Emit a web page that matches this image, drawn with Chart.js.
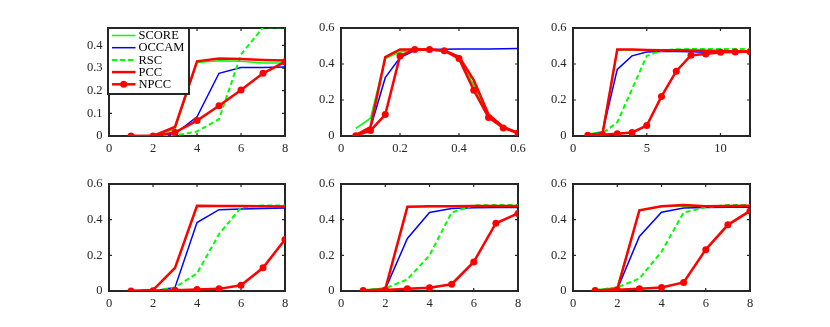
<!DOCTYPE html>
<html>
<head>
<meta charset="utf-8">
<script src="https://cdn.jsdelivr.net/npm/chart.js@4.4.1/dist/chart.umd.min.js"></script>
<style>
body { margin: 0; background: #fff; }
#fig { position: relative; width: 830px; height: 327px; overflow: hidden; background: #fff; }
#fig canvas { position: absolute; }
</style>
</head>
<body>
<div id="fig"></div>
<script>
'use strict';

var seriesNames = ['SCORE', 'OCCAM', 'RSC', 'PCC', 'NPCC']

// panel 1
var p1X = [1, 2, 3, 4, 5, 6, 7, 8]
var p1Score = [0, 0, 0.03, 0.325, 0.332, 0.33, 0.322, 0.322]
var p1Occam = [0, 0, 0.01, 0.085, 0.277, 0.302, 0.303, 0.305]
var p1Rsc = [0, 0, 0.002, 0.02, 0.074, 0.36, 0.48, 0.48]
var p1Pcc = [0, 0, 0.04, 0.33, 0.342, 0.34, 0.336, 0.334]
var p1Npcc = [0, 0, 0.016, 0.068, 0.134, 0.203, 0.277, 0.328]

// panel 2
var p2X = [0.05, 0.1, 0.15, 0.2, 0.25, 0.3, 0.35, 0.4, 0.45, 0.5, 0.55, 0.6]
var p2Score = [0.043, 0.099, 0.43, 0.467, 0.475, 0.48, 0.475, 0.43, 0.28, 0.11, 0.05, 0.018]
var p2Occam = [0.005, 0.045, 0.324, 0.436, 0.475, 0.48, 0.482, 0.483, 0.484, 0.484, 0.485, 0.486]
var p2Rsc = [0.005, 0.05, 0.43, 0.478, 0.48, 0.48, 0.475, 0.44, 0.3, 0.12, 0.05, 0.018]
var p2Pcc = [0.005, 0.05, 0.438, 0.481, 0.481, 0.48, 0.475, 0.44, 0.31, 0.12, 0.05, 0.018]
var p2Npcc = [0.002, 0.03, 0.119, 0.445, 0.481, 0.481, 0.474, 0.43, 0.254, 0.103, 0.045, 0.016]

// panel 3
var p3X = [1, 2, 3, 4, 5, 6, 7, 8, 9, 10, 11, 12]
var p3Score = [0.01, 0.025, 0.478, 0.478, 0.476, 0.475, 0.474, 0.473, 0.472, 0.471, 0.47, 0.47]
var p3Occam = [0.005, 0.02, 0.37, 0.445, 0.467, 0.47, 0.47, 0.468, 0.465, 0.465, 0.466, 0.466]
var p3Rsc = [0.005, 0.015, 0.076, 0.26, 0.445, 0.475, 0.482, 0.483, 0.483, 0.483, 0.483, 0.483]
var p3Pcc = [0.005, 0.01, 0.481, 0.48, 0.478, 0.477, 0.476, 0.475, 0.474, 0.472, 0.471, 0.47]
var p3Npcc = [0.004, 0.007, 0.013, 0.02, 0.058, 0.22, 0.36, 0.449, 0.456, 0.465, 0.467, 0.468]

// panel 4
var p4X = [1, 2, 3, 4, 5, 6, 7, 8]
var p4Score = [0, 0.005, 0.125, 0.474, 0.475, 0.475, 0.474, 0.473]
var p4Occam = [0, 0, 0.02, 0.384, 0.456, 0.46, 0.463, 0.466]
var p4Rsc = [0, 0, 0.02, 0.099, 0.319, 0.468, 0.48, 0.48]
var p4Pcc = [0, 0.005, 0.13, 0.478, 0.477, 0.476, 0.475, 0.474]
var p4Npcc = [0, 0.002, 0.004, 0.008, 0.012, 0.032, 0.13, 0.289]

// panel 5
var p5X = [1, 2, 3, 4, 5, 6, 7, 8]
var p5Score = [0.005, 0.015, 0.47, 0.474, 0.475, 0.476, 0.476, 0.476]
var p5Occam = [0.003, 0.01, 0.295, 0.44, 0.463, 0.467, 0.468, 0.468]
var p5Rsc = [0.005, 0.015, 0.065, 0.2, 0.44, 0.48, 0.482, 0.482]
var p5Pcc = [0.003, 0.01, 0.472, 0.475, 0.475, 0.476, 0.476, 0.476]
var p5Npcc = [0.003, 0.005, 0.012, 0.018, 0.038, 0.163, 0.38, 0.435]

// panel 6
var p6X = [1, 2, 3, 4, 5, 6, 7, 8]
var p6Score = [0.005, 0.02, 0.45, 0.474, 0.477, 0.475, 0.476, 0.477]
var p6Occam = [0.003, 0.01, 0.306, 0.442, 0.465, 0.468, 0.47, 0.47]
var p6Rsc = [0.005, 0.02, 0.07, 0.22, 0.44, 0.47, 0.482, 0.482]
var p6Pcc = [0.003, 0.01, 0.452, 0.475, 0.482, 0.475, 0.476, 0.478]
var p6Npcc = [0.003, 0.007, 0.013, 0.02, 0.048, 0.232, 0.371, 0.449]

var axisColor = '#262626'
var fontFamily = '"Liberation Serif", "Times New Roman", serif'

var styles = {
    'SCORE': { color: '#00ff00', width: 1.5, dash: [], radius: 0, order: 5 },
    'OCCAM': { color: '#0000ff', width: 1.5, dash: [], radius: 0, order: 4 },
    'RSC': { color: '#00ff00', width: 2, dash: [5, 3], radius: 0, order: 3 },
    'PCC': { color: '#ff0000', width: 2.5, dash: [], radius: 0, order: 2 },
    'NPCC': { color: '#ff0000', width: 2.5, dash: [], radius: 3.5, order: 1 },
}

var cols = [{ left: 109, w: 176 }, { left: 341, w: 177 }, { left: 573, w: 177 }]
var rows = [{ top: 24, h: 112 }, { top: 180, h: 111 }]
var padL = 45, padR = 15, padT = 10, padB = 22

var panels = [
    { col: 0, row: 0, x: p1X, ys: [p1Score, p1Occam, p1Rsc, p1Pcc, p1Npcc], xMax: 8, xStep: 2, yMax: 0.477, yStep: 0.1, legend: true },
    { col: 1, row: 0, x: p2X, ys: [p2Score, p2Occam, p2Rsc, p2Pcc, p2Npcc], xMax: 0.6, xStep: 0.2, yMax: 0.6, yStep: 0.2 },
    { col: 2, row: 0, x: p3X, ys: [p3Score, p3Occam, p3Rsc, p3Pcc, p3Npcc], xMax: 12, xStep: 5, yMax: 0.6, yStep: 0.2 },
    { col: 0, row: 1, x: p4X, ys: [p4Score, p4Occam, p4Rsc, p4Pcc, p4Npcc], xMax: 8, xStep: 2, yMax: 0.6, yStep: 0.2 },
    { col: 1, row: 1, x: p5X, ys: [p5Score, p5Occam, p5Rsc, p5Pcc, p5Npcc], xMax: 8, xStep: 2, yMax: 0.6, yStep: 0.2 },
    { col: 2, row: 1, x: p6X, ys: [p6Score, p6Occam, p6Rsc, p6Pcc, p6Npcc], xMax: 8, xStep: 2, yMax: 0.6, yStep: 0.2 },
]

// box round the axes with inward ticks on all four sides
var boxPlugin = {
    id: 'box',
    beforeDatasetsDraw: function(chart) {
        var ctx = chart.ctx
        var a = chart.chartArea
        var tl = 3
        ctx.save()
        ctx.strokeStyle = axisColor
        ctx.lineWidth = 2
        ctx.strokeRect(a.left, a.top, a.right - a.left, a.bottom - a.top)
        ctx.lineWidth = 1.2
        ctx.beginPath()
        for (var t of chart.scales.x.ticks) {
            var px = chart.scales.x.getPixelForValue(t.value)
            ctx.moveTo(px, a.bottom); ctx.lineTo(px, a.bottom - tl)
            ctx.moveTo(px, a.top); ctx.lineTo(px, a.top + tl)
        }
        for (var t of chart.scales.y.ticks) {
            var py = chart.scales.y.getPixelForValue(t.value)
            ctx.moveTo(a.left, py); ctx.lineTo(a.left + tl, py)
            ctx.moveTo(a.right, py); ctx.lineTo(a.right - tl, py)
        }
        ctx.stroke()
        ctx.restore()
    },
    afterDraw: function(chart) {
        if (!chart.options.plugins.box || !chart.options.plugins.box.legend) {
            return
        }
        var ctx = chart.ctx
        var a = chart.chartArea
        var x0 = a.left - 1, y0 = a.top, w = 81, h = 66
        ctx.save()
        ctx.fillStyle = '#fff'
        ctx.fillRect(x0, y0, w, h)
        ctx.strokeStyle = axisColor
        ctx.lineWidth = 2
        ctx.strokeRect(x0, y0, w, h)
        ctx.font = '12.5px ' + fontFamily
        ctx.textBaseline = 'middle'
        ctx.textAlign = 'left'
        var i = 0
        for (var ds of chart.data.datasets) {
            var y = y0 + 7.5 + i * 12.2
            ctx.strokeStyle = ds.borderColor
            ctx.lineWidth = ds.borderWidth
            ctx.setLineDash(ds.borderDash)
            ctx.beginPath()
            ctx.moveTo(x0 + 4, y)
            ctx.lineTo(x0 + 27.5, y)
            ctx.stroke()
            ctx.setLineDash([])
            if (ds.pointRadius > 0) {
                ctx.fillStyle = ds.borderColor
                ctx.beginPath()
                ctx.arc(x0 + 15.7, y, ds.pointRadius, 0, Math.PI * 2)
                ctx.fill()
            }
            ctx.fillStyle = '#000'
            ctx.fillText(ds.label, x0 + 30.5, y + 0.5)
            i++
        }
        ctx.restore()
    }
}

function makeChart(p) {
    var col = cols[p.col]
    var row = rows[p.row]
    var canvas = document.createElement('canvas')
    canvas.width = padL + col.w + padR
    canvas.height = padT + row.h + padB
    canvas.style.left = (col.left - padL) + 'px'
    canvas.style.top = (row.top - padT) + 'px'
    document.getElementById('fig').appendChild(canvas)

    var datasets = []
    for (var i = 0; i < seriesNames.length; i++) {
        var name = seriesNames[i]
        var s = styles[name]
        var pts = []
        for (var j = 0; j < p.x.length; j++) {
            pts.push({ x: p.x[j], y: p.ys[i][j] })
        }
        datasets.push({
            label: name,
            data: pts,
            borderColor: s.color,
            backgroundColor: s.color,
            borderWidth: s.width,
            borderDash: s.dash,
            pointRadius: s.radius,
            pointBorderWidth: 0,
            pointBackgroundColor: s.color,
            tension: 0,
            order: s.order,
        })
    }

    var tickFont = { family: fontFamily, size: 12.5 }

    new Chart(canvas.getContext('2d'), {
        type: 'line',
        data: { datasets: datasets },
        options: {
            responsive: false,
            animation: false,
            devicePixelRatio: 1,
            events: [],
            layout: { padding: { top: padT, right: padR, left: 0, bottom: 0 } },
            plugins: {
                legend: { display: false },
                tooltip: { enabled: false },
                box: { legend: !!p.legend },
            },
            scales: {
                x: {
                    type: 'linear',
                    min: 0,
                    max: p.xMax,
                    grid: { display: false, tickLength: 0 },
                    border: { display: false },
                    ticks: { stepSize: p.xStep, includeBounds: false, color: axisColor, font: tickFont, padding: 5, maxRotation: 0 },
                    afterFit: function(scale) { scale.height = padB },
                },
                y: {
                    min: 0,
                    max: p.yMax,
                    grid: { display: false, tickLength: 0 },
                    border: { display: false },
                    ticks: { stepSize: p.yStep, includeBounds: false, color: axisColor, font: tickFont, padding: 6.5 },
                    afterFit: function(scale) { scale.width = padL },
                },
            },
        },
        plugins: [boxPlugin],
    })
}

for (var p of panels) {
    makeChart(p)
}
</script>
</body>
</html>
